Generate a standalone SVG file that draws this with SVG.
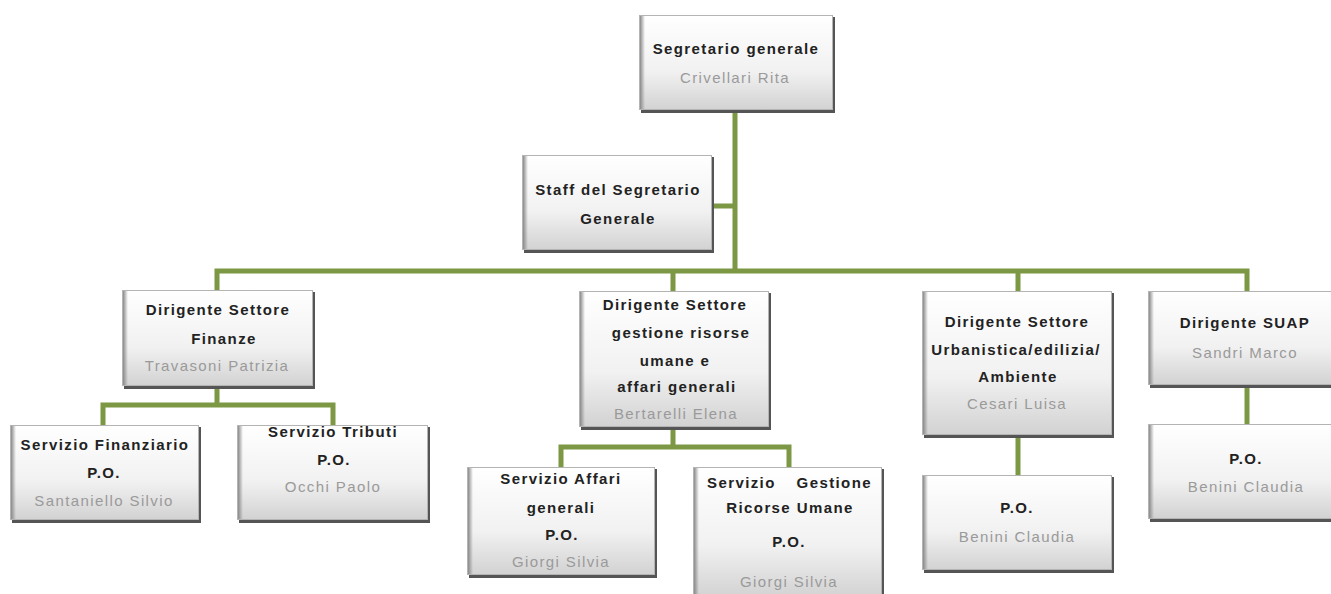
<svg xmlns="http://www.w3.org/2000/svg" width="1331" height="594" viewBox="0 0 1331 594">
<defs>
<linearGradient id="g" x1="0" y1="0" x2="0" y2="1">
<stop offset="0" stop-color="#ffffff"/>
<stop offset="0.6" stop-color="#f1f1f1"/>
<stop offset="1" stop-color="#d2d2d2"/>
</linearGradient>
<linearGradient id="gl" x1="0" y1="0" x2="1" y2="0">
<stop offset="0" stop-color="#8a8a8a"/>
<stop offset="1" stop-color="#8a8a8a" stop-opacity="0"/>
</linearGradient>
</defs>
<style>
.sh{fill:#555555}
.bx{fill:url(#g);stroke:#b4b4b4;stroke-width:1}
.lb{fill:url(#gl)}
.c{fill:none;stroke:#7d9845;stroke-width:5;stroke-linejoin:miter;stroke-linecap:butt}
text{font-family:"Liberation Sans",Arial,sans-serif;font-size:15px;letter-spacing:1.4px;text-anchor:middle}
.b{font-weight:bold;fill:#222222}
.n{fill:#9a9a9a}
</style>
<g id="connectors">
<path class="c" d="M735 110V271M712 206H735M217 292V271H1247V292M673 271V292M1018 271V292"/>
<path class="c" d="M217 386V405M103 426V405H333V426"/>
<path class="c" d="M673 427V447M561 467V447H789V467"/>
<path class="c" d="M1018 435V475"/>
<path class="c" d="M1247 385V424"/>
</g>
<g id="segretario">
<rect class="sh" x="641" y="17" width="194" height="96"/>
<rect class="bx" x="639.5" y="15.5" width="193" height="94"/>
<rect class="lb" x="640" y="16" width="5" height="93"/>
<text class="b" x="736" y="54">Segretario generale</text>
<text class="n" x="735" y="83">Crivellari Rita</text>
</g>
<g id="staff">
<rect class="sh" x="524" y="157" width="190" height="96"/>
<rect class="bx" x="522.5" y="155.5" width="189" height="94"/>
<rect class="lb" x="523" y="156" width="5" height="93"/>
<text class="b" x="618" y="195">Staff del Segretario</text>
<text class="b" x="618" y="224">Generale</text>
</g>
<g id="finanze">
<rect class="sh" x="124" y="292" width="191" height="97"/>
<rect class="bx" x="122.5" y="290.5" width="190" height="95"/>
<rect class="lb" x="123" y="291" width="5" height="94"/>
<text class="b" x="218" y="315">Dirigente Settore</text>
<text class="b" x="224" y="344">Finanze</text>
<text class="n" x="217" y="371">Travasoni Patrizia</text>
</g>
<g id="servizio-finanziario">
<rect class="sh" x="12" y="427" width="189" height="96"/>
<rect class="bx" x="10.5" y="425.5" width="188" height="94"/>
<rect class="lb" x="11" y="426" width="5" height="93"/>
<text class="b" x="105" y="450">Servizio Finanziario</text>
<text class="b" x="104" y="478">P.O.</text>
<text class="n" x="104" y="506">Santaniello Silvio</text>
</g>
<g id="servizio-tributi">
<rect class="sh" x="239" y="427" width="191" height="96"/>
<rect class="bx" x="237.5" y="425.5" width="190" height="94"/>
<rect class="lb" x="238" y="426" width="5" height="93"/>
<text class="b" x="333" y="437">Servizio Tributi</text>
<text class="b" x="334" y="465">P.O.</text>
<text class="n" x="333" y="492">Occhi Paolo</text>
</g>
<g id="risorse-umane">
<rect class="sh" x="581" y="293" width="190" height="137"/>
<rect class="bx" x="579.5" y="291.5" width="189" height="135"/>
<rect class="lb" x="580" y="292" width="5" height="134"/>
<text class="b" x="675" y="310">Dirigente Settore</text>
<text class="b" x="681" y="338">gestione risorse</text>
<text class="b" x="675" y="366">umane e</text>
<text class="b" x="677" y="392">affari generali</text>
<text class="n" x="676" y="419">Bertarelli Elena</text>
</g>
<g id="servizio-affari-generali">
<rect class="sh" x="469" y="469" width="188" height="109"/>
<rect class="bx" x="467.5" y="467.5" width="187" height="107"/>
<rect class="lb" x="468" y="468" width="5" height="106"/>
<text class="b" x="561" y="484">Servizio Affari</text>
<text class="b" x="561" y="513">generali</text>
<text class="b" x="562" y="540">P.O.</text>
<text class="n" x="561" y="567">Giorgi Silvia</text>
</g>
<g id="servizio-gestione-risorse-umane">
<rect class="sh" x="695" y="469" width="189" height="130"/>
<rect class="bx" x="693.5" y="467.5" width="188" height="130"/>
<rect class="lb" x="694" y="468" width="5" height="126"/>
<text class="b" x="707" y="488" style="text-anchor:start">Servizio</text>
<text class="b" x="872" y="488" style="text-anchor:end">Gestione</text>
<text class="b" x="790" y="513">Ricorse Umane</text>
<text class="b" x="789" y="547">P.O.</text>
<text class="n" x="789" y="587">Giorgi Silvia</text>
</g>
<g id="urbanistica">
<rect class="sh" x="924" y="293" width="190" height="145"/>
<rect class="bx" x="922.5" y="291.5" width="189" height="143"/>
<rect class="lb" x="923" y="292" width="5" height="142"/>
<text class="b" x="1017" y="327">Dirigente Settore</text>
<text class="b" x="1016" y="355">Urbanistica/edilizia/</text>
<text class="b" x="1018" y="382">Ambiente</text>
<text class="n" x="1017" y="409">Cesari Luisa</text>
</g>
<g id="po-urbanistica">
<rect class="sh" x="924" y="477" width="190" height="96"/>
<rect class="bx" x="922.5" y="475.5" width="189" height="94"/>
<rect class="lb" x="923" y="476" width="5" height="93"/>
<text class="b" x="1017" y="513">P.O.</text>
<text class="n" x="1017" y="542">Benini Claudia</text>
</g>
<g id="suap">
<rect class="sh" x="1150" y="293" width="185" height="95"/>
<rect class="bx" x="1148.5" y="291.5" width="184" height="93"/>
<rect class="lb" x="1149" y="292" width="5" height="92"/>
<text class="b" x="1245" y="328">Dirigente SUAP</text>
<text class="n" x="1245" y="358">Sandri Marco</text>
</g>
<g id="po-suap">
<rect class="sh" x="1150" y="426" width="185" height="96"/>
<rect class="bx" x="1148.5" y="424.5" width="184" height="94"/>
<rect class="lb" x="1149" y="425" width="5" height="93"/>
<text class="b" x="1246" y="464">P.O.</text>
<text class="n" x="1246" y="492">Benini Claudia</text>
</g>
</svg>
